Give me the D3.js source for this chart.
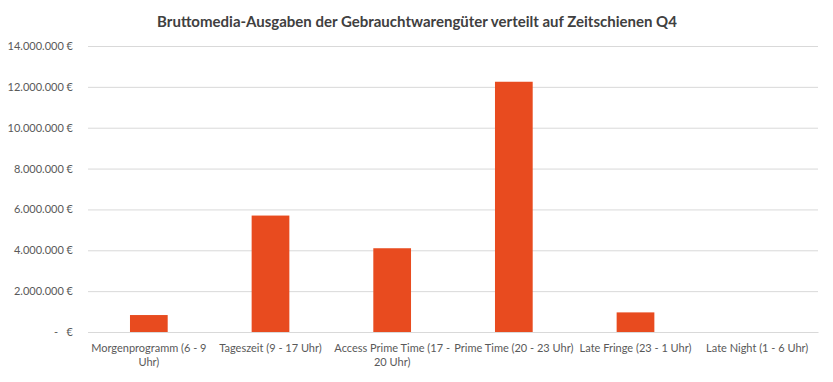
<!DOCTYPE html>
<html><head><meta charset="utf-8">
<script src="https://cdn.jsdelivr.net/npm/d3@7"></script>
<style>body{margin:0;background:#fff;} text{font-family:Lato, "Open Sans", sans-serif;}</style>
</head><body><svg id="c" width="833" height="382"></svg>
<script>
const title = "Bruttomedia-Ausgaben der Gebrauchtwarengüter verteilt auf Zeitschienen Q4";
const categories = ["Morgenprogramm (6 - 9\nUhr)", "Tageszeit (9 - 17 Uhr)", "Access Prime Time (17 -\n20 Uhr)", "Prime Time (20 - 23 Uhr)", "Late Fringe (23 - 1 Uhr)", "Late Night (1 - 6 Uhr)"];
const values = [830000, 5700000, 4100000, 12250000, 960000, 0];
const yTicks = [0, 2000000, 4000000, 6000000, 8000000, 10000000, 12000000, 14000000];
const yTickLabels = ["-   €", "2.000.000 €", "4.000.000 €", "6.000.000 €", "8.000.000 €", "10.000.000 €", "12.000.000 €", "14.000.000 €"];

const svg = d3.select("#c");
const m = {l: 88, r: 15, t: 46, b: 50};
const W = 833, H = 382;
const x = d3.scaleBand().domain(categories).range([m.l, W - m.r]).paddingInner(0.69).paddingOuter(0.345);
const y = d3.scaleLinear().domain([0, 14000000]).range([332, 46]);

svg.append("text").attr("x", 417).attr("y", 27).attr("text-anchor", "middle")
  .attr("font-size", 15).attr("font-weight", "bold").attr("fill", "#404040").text(title);

const ya = svg.append("g").attr("transform", `translate(${m.l},0)`)
  .call(d3.axisLeft(y).tickValues(yTicks).tickSize(-(W - m.r - m.l)).tickFormat((d, i) => yTickLabels[i]));
ya.select(".domain").remove();
ya.selectAll(".tick line").attr("stroke", "#d9d9d9");
ya.selectAll(".tick text").attr("x", -15).attr("fill", "#595959").attr("font-size", 11).style("white-space", "pre").attr("xml:space", "preserve");

svg.append("g").selectAll("rect").data(values).join("rect")
  .attr("x", (d, i) => x(categories[i])).attr("width", x.bandwidth())
  .attr("y", d => y(d)).attr("height", d => y(0) - y(d)).attr("fill", "#E84B1F");

const xa = svg.append("g").attr("transform", `translate(0,${y(0)})`)
  .call(d3.axisBottom(x).tickSize(0).tickFormat(""));
xa.select(".domain").attr("stroke", "#d9d9d9");
xa.selectAll(".tick").each(function(d) {
  const lines = d.split("\n");
  const t = d3.select(this).append("text").attr("text-anchor", "middle").attr("fill", "#595959").attr("font-size", 11);
  lines.forEach((ln, k) => t.append("tspan").attr("x", 0).attr("y", 20 + k * 14).text(ln));
});
</script></body></html>
